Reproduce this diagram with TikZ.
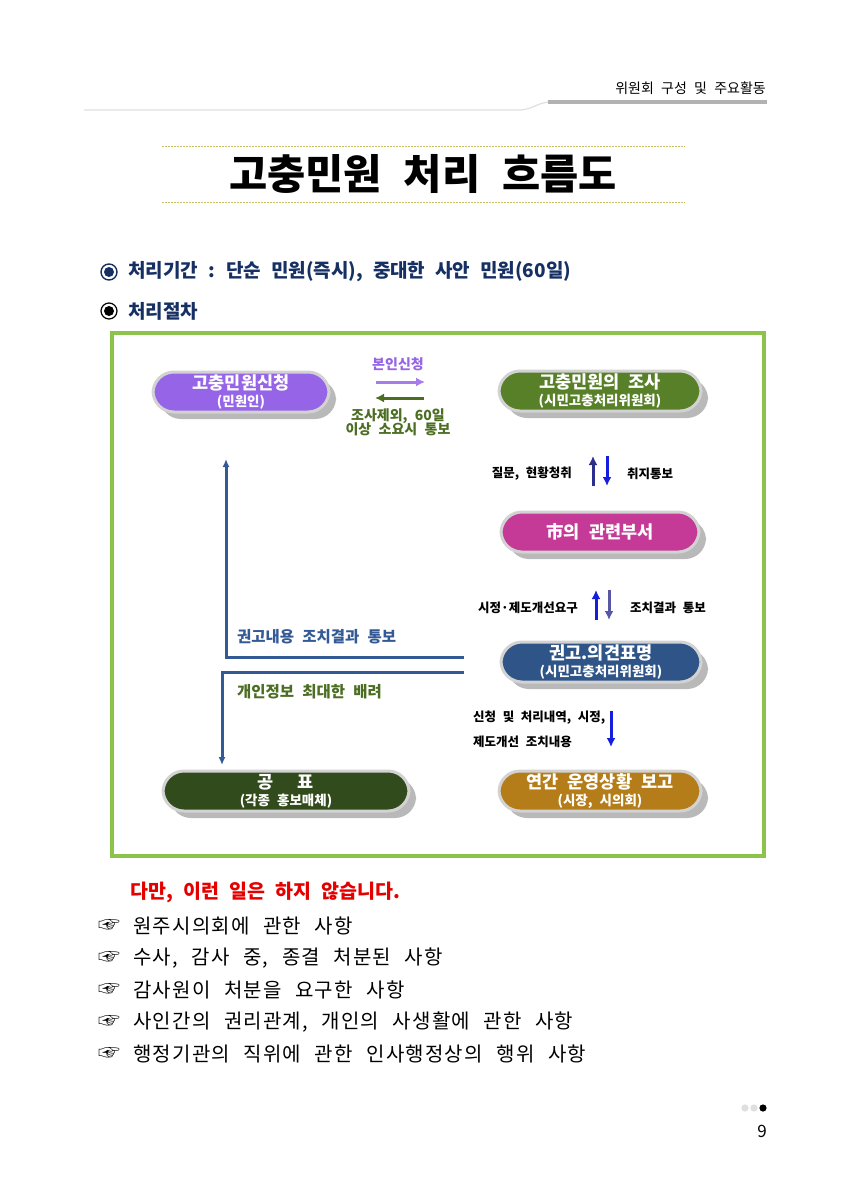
\documentclass[tikz,border=0pt]{standalone}
\usepackage{fontspec}
\setmainfont{Noto Sans CJK KR}[WordSpace=2.3]
\newfontfamily\bodyfont{Noto Sans CJK KR}[WordSpace=2.4, LetterSpace=6]
\usetikzlibrary{arrows.meta}
\usetikzlibrary{positioning}
\usetikzlibrary{shadows}
\definecolor{navy}{RGB}{22,48,100}
\definecolor{framegreen}{RGB}{140,195,75}
\definecolor{pillpurple}{RGB}{150,100,230}
\definecolor{pillgreen}{RGB}{88,128,40}
\definecolor{pillmagenta}{RGB}{196,58,150}
\definecolor{pillblue}{RGB}{46,84,136}
\definecolor{pilldark}{RGB}{50,75,28}
\definecolor{pillgold}{RGB}{180,125,25}
\definecolor{linkblue}{RGB}{52,90,150}
\definecolor{labelgreen}{RGB}{75,110,35}
\definecolor{arrowblue}{RGB}{20,30,220}
\definecolor{arrownavy}{RGB}{45,45,140}
\newcommand{\pillsub}[1]{{\fontsize{13.5}{15}\selectfont #1}}
\tikzset{pill/.style = {draw = gray!35, line width = 3, rounded corners = 21,
                        minimum height = 40, text = white, align = center, inner sep = 1,
                        font = \fontsize{17.5}{17}\selectfont\bfseries,
                        drop shadow = {shadow xshift = 7, shadow yshift = 7, fill = gray!55, opacity = 1}}}
\tikzset{arr/.style = {-{Latex[length=9pt, width=9pt]}, line width = 3}}
\tikzset{link/.style = {-{Latex[length=8pt, width=7pt]}, line width = 3, linkblue}}
\tikzset{lbl/.style = {font = \fontsize{14}{15}\selectfont\bfseries, align = center, inner sep = 0}}
\tikzset{sidelbl/.style = {anchor = west, inner sep = 0, font = \fontsize{15.5}{17}\selectfont\bfseries}}
\tikzset{hint/.style = {font = \fontsize{12.5}{14}\selectfont\bfseries, inner sep = 0}}
\tikzset{titleline/.style = {draw = olive!50, line width = 0.8, dash pattern = on 2pt off 1pt}}
\tikzset{item/.style = {anchor = west, inner sep = 0, font = \bodyfont\fontsize{20}{22}\selectfont}}
\begin{document}
\begin{tikzpicture}[x = 1pt, y = -1pt]
  \useasboundingbox [fill = white] (0, 0) rectangle (848, 1200);
  % header
  \node [anchor = east, inner sep = 0, font = \fontsize{14}{16}\selectfont] (head) at (766, 88) {위원회 구성 및 주요활동};
  \draw [gray!25, line width = 1.2] (84, 110) -- (518, 110) .. controls (534, 110) and (536, 102) .. (552, 102);
  \draw [gray!60, line width = 4] (548, 102) -- (767, 102);
  % title
  \draw [titleline] (162, 146) -- (685, 146);
  \draw [titleline] (162, 202) -- (685, 202);
  \node [font = \fontsize{41.5}{44}\selectfont\bfseries] (title) at (423, 174) {고충민원 처리 흐름도};
  % bullets
  \draw [navy, line width = 1.4] (109, 272) circle (8);
  \fill [navy] (109, 272) circle (5);
  \node [anchor = west, inner sep = 0, text = navy, font = \fontsize{19}{21}\selectfont\bfseries] (period) at (128, 272) {처리기간 : 단순 민원(즉시), 중대한 사안 민원(60일)};
  \draw [black, line width = 1.2] (109, 311) circle (8);
  \fill [black] (109, 311) circle (5);
  \node [anchor = west, inner sep = 0, text = navy, font = \fontsize{19}{21}\selectfont\bfseries] (steps) at (128, 311) {처리절차};
  % flow chart
  \draw [framegreen, line width = 4] (112, 333) rectangle (764, 856);
  \node [pill, fill = pillpurple, minimum width = 176] (apply) at (241, 392) {고충민원신청\\\pillsub{(민원인)}};
  \node [pill, fill = pillgreen, minimum width = 202] (survey) at (600, 391) {고충민원의 조사\\\pillsub{(시민고충처리위원회)}};
  \node [pill, fill = pillmagenta, minimum width = 198] (dept) at (600, 532) {市의 관련부서};
  \node [pill, fill = pillblue, minimum width = 200] (advice) at (601, 662) {권고.의견표명\\\pillsub{(시민고충처리위원회)}};
  \node [pill, fill = pilldark, minimum width = 246] (notice) at (286, 791) {공\hspace{24pt}표\\\pillsub{(각종 홍보매체)}};
  \node [pill, fill = pillgold, minimum width = 202] (report) at (600, 791) {연간 운영상황 보고\\\pillsub{(시장, 시의회)}};
  % apply <-> survey
  \node [lbl, text = pillpurple] (self) at (398, 364) {본인신청};
  \coordinate (go a) at (376, 382);
  \coordinate (go b) at (425, 382);
  \draw [arr, pillpurple!85] (go a) -- (go b);
  \coordinate (back a) at (424, 398);
  \coordinate (back b) at (375, 398);
  \draw [arr, labelgreen] (back a) -- (back b);
  \node [lbl, text = labelgreen] (excl) at (398, 422) {조사제외, 60일\\[-2pt]이상 소요시 통보};
  % survey <-> dept
  \node [hint, anchor = east] (ask) at (572, 474) {질문, 현황청취};
  \coordinate (up a) at (593, 486);
  \coordinate (up b) at (593, 456);
  \draw [arr, arrownavy] (up a) -- (up b);
  \coordinate (down a) at (607, 456);
  \coordinate (down b) at (607, 486);
  \draw [arr, arrowblue] (down a) -- (down b);
  \node [hint, anchor = west] (intent) at (627, 474) {취지통보};
  % dept <-> advice
  \node [hint, anchor = east] (demand) at (578, 608) {시정·제도개선요구};
  \coordinate (up c) at (596, 620);
  \coordinate (up d) at (596, 590);
  \draw [arr, arrowblue] (up c) -- (up d);
  \coordinate (down c) at (609, 590);
  \coordinate (down d) at (609, 620);
  \draw [arr, arrownavy!80] (down c) -- (down d);
  \node [hint, anchor = west] (result) at (630, 608) {조치결과 통보};
  % advice -> report
  \node [hint, anchor = west] (content) at (473, 718) {신청 및 처리내역, 시정,};
  \node [hint, anchor = west] (content2) at (473, 742) {제도개선 조치내용};
  \coordinate (down e) at (611, 711);
  \coordinate (down f) at (611, 747);
  \draw [arr, arrowblue] (down e) -- (down f);
  % advice -> apply / notice
  \coordinate (ret a) at (464, 657);
  \coordinate (ret b) at (226, 459);
  \draw [link] (ret a) -| (ret b);
  \node [sidelbl, text = linkblue] (retlbl) at (237, 637) {권고내용 조치결과 통보};
  \coordinate (pub a) at (464, 672);
  \coordinate (pub b) at (222, 765);
  \draw [link] (pub a) -| (pub b);
  \node [sidelbl, text = labelgreen] (publbl) at (237, 692) {개인정보 최대한 배려};
  % exceptions
  \node [anchor = west, inner sep = 0, text = red!90!black, font = \fontsize{19.5}{22}\selectfont\bfseries] (but) at (130, 892) {다만, 이런 일은 하지 않습니다.};
  \foreach \txt [count = \i] in {원주시의회에 관한 사항,
                                 {수사, 감사 중, 종결 처분된 사항},
                                 감사원이 처분을 요구한 사항,
                                 {사인간의 권리관계, 개인의 사생활에 관한 사항},
                                 행정기관의 직위에 관한 인사행정상의 행위 사항} {
    \node [anchor = west, inner sep = 0, font = \fontsize{22}{24}\selectfont] (hand\i) at (98, 894 + 32 * \i) {☞};
    \node [item] (case\i) at (133, 894 + 32 * \i) {\txt};
  }
  % page number
  \fill [gray!25] (745, 1108) circle (3.6);
  \fill [gray!25] (754, 1108) circle (3.6);
  \fill [black] (763, 1108) circle (3.6);
  \node [font = \fontsize{17}{19}\selectfont] (page) at (762, 1131) {9};
\end{tikzpicture}
\end{document}
